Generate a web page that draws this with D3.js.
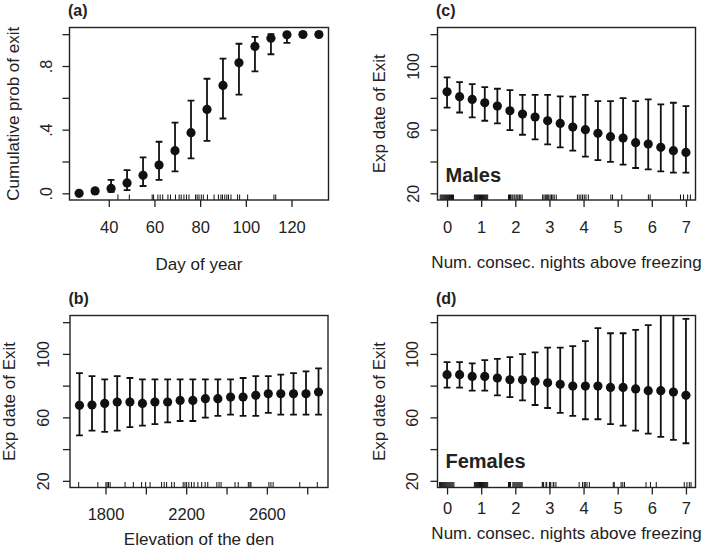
<!DOCTYPE html>
<html><head><meta charset="utf-8">
<script src="https://cdn.jsdelivr.net/npm/d3@7/dist/d3.min.js"></script>
<style>
html,body{margin:0;padding:0;background:#fff;}
text{font-family:"Liberation Sans",Arial,Helvetica,sans-serif;fill:#222;}
</style></head>
<body>
<svg id="c" width="709" height="555"></svg>
<script>
// ---------- DATA ----------
// (a) cumulative probability of exit by day of year
const dayA   = [27,34,41,48,55,62,69,76,83,90,97,104,111,118,125,132];
const probA  = [0.0,0.015,0.031,0.065,0.113,0.178,0.268,0.381,0.527,0.678,0.82,0.923,0.975,0.996,0.998,0.998];
const loA    = [0.0,0.005,0.01,0.02,0.046,0.084,0.138,0.22,0.33,0.47,0.62,0.766,0.874,0.946,0.99,0.99];
const hiA    = [0.003,0.03,0.084,0.146,0.226,0.324,0.444,0.582,0.72,0.847,0.94,0.983,1.0,1.0,1.0,1.0];
const rugA   = [44,49,59,59.6,61.5,62.5,63.6,65.9,67,69.2,70.8,71.7,72.9,74,75.1,78,78.7,79.5,80.5,81.4,83.2,86.1,88,89.1,89.8,90.8,91.7,92.4,93.5,96.4,97.3,100.8,112.3,113.1];
const xTicksA = [40,60,80,100,120];
const xLabelsA = ["40","60","80","100","120"];
const yTicksA = [0,0.2,0.4,0.6,0.8,1.0];
const yLabelsA = [".0","",".4","",".8",""];

// (b) expected exit date vs elevation of the den
const elevB = [1671,1733,1796,1858,1921,1983,2045,2108,2170,2233,2295,2357,2420,2482,2545,2607,2669,2732,2794,2856];
const expB  = [67.6,67.8,68.8,69.7,69.7,68.8,69.7,69.7,70.7,70.7,71.8,71.8,72.8,72.8,73.9,74.9,74.9,74.9,74.9,76.0];
const loB   = [48.7,51.7,50.8,51.7,53.8,54.8,55.8,56.9,57.7,57.7,59.8,60.9,61.7,60.9,60.9,62.8,61.7,61.7,61.7,61.7];
const hiB   = [87.9,86.0,83.9,86.0,84.8,83.9,83.9,83.9,83.9,83.9,83.9,83.9,83.9,84.8,86.0,86.0,86.9,87.9,89.0,90.9];
const rugB  = [1667,1762,1802,1808,1815,1823,1897,1938,1979,1999,2021,2078,2091,2103,2128,2141,2185,2194,2202,2213,2226,2239,2258,2277,2294,2307,2352,2363,2373,2442,2458,2508,2516,2521,2610,2620,2631,2763,2850];
const xTicksB = [1800,2000,2200,2400,2600,2800];
const xLabelsB = ["1800","","2200","","2600",""];

// shared y ticks for (b),(c),(d)
const yTicksE = [20,40,60,80,100,120];
const yLabelsE = ["20","","60","","100",""];

// (c),(d) number of consecutive nights above freezing
const nights = [0,0.368,0.737,1.105,1.474,1.842,2.211,2.579,2.947,3.316,3.684,4.053,4.421,4.789,5.158,5.526,5.895,6.263,6.632,7];
const xTicksN = [0,1,2,3,4,5,6,7];
const xLabelsN = ["0","1","2","3","4","5","6","7"];

// (c) males
const expC = [83.8,80.7,79.0,76.9,74.8,71.9,69.8,67.9,65.6,63.9,61.6,60.0,57.7,55.6,54.7,51.8,51.0,48.9,46.8,45.7];
const loC  = [73.8,70.8,67.7,65.6,63.9,59.7,56.8,53.9,50.8,48.9,46.8,43.0,40.9,39.7,38.0,35.9,35.0,33.8,33.0,33.0];
const hiC  = [92.8,89.9,88.6,86.7,85.7,84.9,81.9,81.9,81.9,80.9,80.7,81.9,77.9,77.9,79.8,77.9,79.0,75.9,76.9,74.8];
const rugC = [-0.2,-0.17,-0.14,-0.11,-0.08,-0.05,-0.02,0.01,0.04,0.07,0.1,0.13,0.16,0.19,
  0.8,0.83,0.86,0.89,0.92,0.95,0.98,1.01,1.04,1.07,1.1,1.13,1.16,1.19,
  1.8,1.83,1.86,1.9,1.93,1.97,2.02,2.05,2.08,2.12,2.16,2.2,
  2.8,2.84,2.88,2.92,2.95,2.98,3.02,3.06,3.1,3.14,3.2,
  3.82,3.87,3.92,3.97,4.02,4.07,4.14,
  4.8,4.85,5.12,5.9,5.95,6.84,6.93,7.05,7.13];

// (d) females
const expD = [86.9,86.9,85.8,85.8,84.8,83.7,83.7,82.7,81.8,80.8,79.7,79.7,79.7,78.9,78.9,77.9,76.8,76.8,76.0,73.9];
const loD  = [78.7,78.7,76.8,76.8,73.9,72.8,70.7,67.8,65.9,62.8,60.9,58.8,58.8,55.8,54.8,51.7,49.8,47.7,45.8,43.7];
const hiD  = [94.8,94.8,94.0,96.1,96.9,98.0,99.9,100.9,104.0,104.0,104.9,108.0,116.2,113.0,113.0,115.2,118.1,130,130,122.1];
const rugD = [-0.22,-0.19,-0.16,-0.13,-0.1,-0.07,-0.04,-0.01,0.02,0.05,0.08,0.11,0.14,0.17,0.2,
  0.8,0.83,0.86,0.89,0.92,0.95,0.98,1.01,1.04,1.07,1.1,1.13,1.16,1.19,
  1.8,1.83,1.86,1.93,1.96,1.99,2.02,2.05,2.08,2.11,2.14,2.17,2.2,
  2.79,2.81,2.83,2.9,2.92,3.0,3.02,3.04,3.11,3.13,3.19,
  3.87,3.97,4.02,4.05,4.1,4.17,4.87,4.9,5.1,5.15,5.2,5.83,5.96,6.13,6.95,7.03,7.1,7.15];

// ---------- DRAW ----------
const svg = d3.select("#c");
svg.append("rect").attr("width",709).attr("height",555).attr("fill","#fff");

function panel(o){
  const g = svg.append("g");
  const x = d3.scaleLinear().domain(o.xd).range([o.L,o.R]);
  const y = d3.scaleLinear().domain(o.yd).range([o.B,o.T]);
  const cid = "clip"+o.id;
  svg.append("clipPath").attr("id",cid).append("rect")
     .attr("x",o.L).attr("y",o.T).attr("width",o.R-o.L).attr("height",o.B-o.T);

  // x axis
  const xa = g.append("g").attr("transform",`translate(0,${o.B})`)
    .call(d3.axisBottom(x).tickValues(o.xt).tickFormat((d,i)=>o.xl[i]).tickSize(7).tickSizeOuter(0).tickPadding(o.xPad));
  xa.select(".domain").remove();
  xa.selectAll("line").attr("stroke","#222").attr("stroke-width",1.3);
  xa.selectAll("text").attr("font-size",16.5).attr("fill","#222")
    .attr("font-family","Liberation Sans, Arial, sans-serif").attr("dy","0.71em");

  // y axis
  const ya = g.append("g").attr("transform",`translate(${o.L},0)`)
    .call(d3.axisLeft(y).tickValues(o.yt).tickFormat((d,i)=>o.yl[i]).tickSize(7).tickSizeOuter(0));
  ya.select(".domain").remove();
  ya.selectAll("line").attr("stroke","#222").attr("stroke-width",1.3);
  ya.selectAll(".tick text").attr("x",null).attr("dy",null)
    .attr("text-anchor","middle").attr("transform",`translate(${-o.yLabGap},0) rotate(-90)`)
    .attr("font-size",16).attr("fill","#222").attr("font-family","Liberation Sans, Arial, sans-serif");

  // rug
  g.append("g").selectAll("line").data(o.rug).join("line")
    .attr("x1",d=>x(d)).attr("x2",d=>x(d)).attr("y1",o.B).attr("y2",o.B-5.5)
    .attr("stroke","#111").attr("stroke-width",1);

  // error bars
  const eb = g.append("g").attr("clip-path",`url(#${cid})`).attr("stroke","#111").attr("stroke-width",1.8).attr("fill","none");
  o.xs.forEach((xv,i)=>{
    const px = x(xv), y1 = y(o.lo[i]), y2 = y(o.hi[i]);
    if (Math.abs(y1-y2) < 1) return;
    eb.append("line").attr("x1",px).attr("x2",px).attr("y1",y1).attr("y2",y2);
    eb.append("line").attr("x1",px-3.4).attr("x2",px+3.4).attr("y1",y1).attr("y2",y1);
    eb.append("line").attr("x1",px-3.4).attr("x2",px+3.4).attr("y1",y2).attr("y2",y2);
  });
  // points
  g.append("g").selectAll("circle").data(o.xs).join("circle")
    .attr("cx",d=>x(d)).attr("cy",(d,i)=>y(o.ys[i])).attr("r",4.6).attr("fill","#111");

  // box
  g.append("rect").attr("x",o.L).attr("y",o.T).attr("width",o.R-o.L).attr("height",o.B-o.T)
    .attr("fill","none").attr("stroke","#222").attr("stroke-width",1.4);

  // titles
  g.append("text").attr("x",(o.L+o.R)/2).attr("y",o.xTitleY).attr("text-anchor","middle")
    .attr("font-size",17).text(o.xTitle);
  g.append("text").attr("transform",`translate(${o.yTitleX},${(o.T+o.B)/2}) rotate(-90)`)
    .attr("text-anchor","middle").attr("font-size",17).text(o.yTitle);
  g.append("text").attr("x",o.L-1.5).attr("y",o.T-12).attr("font-size",16).attr("font-weight","bold").text(o.tag);
  if (o.note) g.append("text").attr("x",o.L+8).attr("y",o.noteY).attr("font-size",20)
    .attr("font-weight","bold").text(o.note);
}

panel({id:"a",L:69.5,R:328.5,T:27.5,B:200,xd:[22.8,136.2],yd:[-0.042,1.042],
  xt:xTicksA,xl:xLabelsA,xPad:14.5,yt:yTicksA,yl:yLabelsA,yLabGap:17.5,
  xs:dayA,ys:probA,lo:loA,hi:hiA,rug:rugA,
  xTitle:"Day of year",xTitleY:270,yTitle:"Cumulative prob of exit",yTitleX:19,tag:"(a)"});

panel({id:"b",L:70,R:328,T:315.5,B:487.5,xd:[1624,2903],yd:[15.8,124.2],
  xt:xTicksB,xl:xLabelsB,xPad:14,yt:yTicksE,yl:yLabelsE,yLabGap:21.5,
  xs:elevB,ys:expB,lo:loB,hi:hiB,rug:rugB,
  xTitle:"Elevation of the den",xTitleY:545,yTitle:"Exp date of Exit",yTitleX:15,tag:"(b)"});

panel({id:"c",L:437.5,R:695.5,T:27.5,B:200,xd:[-0.28,7.28],yd:[15.8,124.2],
  xt:xTicksN,xl:xLabelsN,xPad:14.5,yt:yTicksE,yl:yLabelsE,yLabGap:19,
  xs:nights,ys:expC,lo:loC,hi:hiC,rug:rugC,
  xTitle:"Num. consec. nights above freezing",xTitleY:268,yTitle:"Exp date of Exit",yTitleX:385,tag:"(c)",
  note:"Males",noteY:181.5});

panel({id:"d",L:437.5,R:695.5,T:315.5,B:487.5,xd:[-0.28,7.28],yd:[15.8,124.2],
  xt:xTicksN,xl:xLabelsN,xPad:7.5,yt:yTicksE,yl:yLabelsE,yLabGap:19.5,
  xs:nights,ys:expD,lo:loD,hi:hiD,rug:rugD,
  xTitle:"Num. consec. nights above freezing",xTitleY:539,yTitle:"Exp date of Exit",yTitleX:385,tag:"(d)",
  note:"Females",noteY:468});
</script>
</body></html>
